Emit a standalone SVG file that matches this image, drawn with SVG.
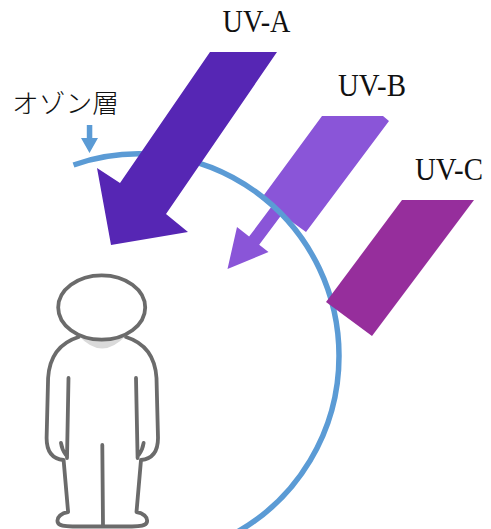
<svg xmlns="http://www.w3.org/2000/svg" width="491" height="529" viewBox="0 0 491 529">
  <style>
    .label { font-family: "Liberation Serif", "Times New Roman", serif; font-size: 32px; fill: #111; }
    .jp { font-family: "Noto Sans CJK JP", "Noto Sans CJK SC", sans-serif; font-size: 26px; font-weight: 300; fill: #111; }
    .ozone { fill: none; stroke: #5b9bd5; stroke-width: 5.5; }
    .body { fill: #fff; stroke: #6b6b6b; stroke-width: 3.8; stroke-linecap: round; stroke-linejoin: round; }
    .line { fill: none; stroke: #6b6b6b; stroke-width: 3.8; stroke-linecap: round; }
  </style>

  <rect width="491" height="529" fill="#fff"/>

  <!-- person -->
  <g id="person">
    <path class="body" d="M 126 337 C 142 342 155 354 156.5 378 L 158 438 C 158 452 152 459 141 460 L 136.5 512 C 143 513 148 517 147 522 C 146 526 140 526.5 132 526.5 L 72.6 526.5 C 64.6 526.5 58.6 526 57.6 522 C 56.6 517 61.6 513 68.1 512 L 63.6 460 C 52.6 459 46.6 452 46.6 438 L 48.1 378 C 49.6 354 62.6 342 78.6 337"/>
    <path d="M 79 336 Q 102 361 125.5 336 Z" fill="#dadada"/>
    <ellipse class="body" cx="101.7" cy="307.5" rx="43.5" ry="32.2"/>
    <path class="line" d="M 68.5 378 L 67 458 M 136 378 L 137.6 458 M 61 443 Q 62 450 66 455 M 143.6 443 Q 142.6 450 138.6 455 M 102.3 445 L 103 525"/>
  </g>

  <!-- UV-B ray (partly passes the layer) -->
  <g id="uvb">
    <polygon fill="#8a55d8" points="322,116 383,116 389,121 306,232 281.8,214.6 259.2,244.7 268.5,252 227.5,269 237,227 249.1,236.6 271.4,206.8 261,199"/>
    <text class="label" x="338" y="96" textLength="68" lengthAdjust="spacingAndGlyphs">UV-B</text>
  </g>

  <!-- ozone layer arc -->
  <g id="ozone-layer">
    <path class="ozone" d="M 73.5 165 A 200 202 0 0 1 339 356 A 200 202 0 0 1 231.7 535"/>
    <polygon fill="#5b9bd5" points="86.8,125 92.3,125 92.3,138 98,138 89.5,153 81,138 86.8,138"/>
    <text class="jp" x="12" y="113" textLength="107" lengthAdjust="spacingAndGlyphs">オゾン層</text>
  </g>

  <!-- UV-A ray (reaches the ground) -->
  <g id="uva">
    <polygon fill="#5626b4" points="210,52 277,52 166,214 188,232 111,245 97,168 120,183"/>
    <text class="label" x="222.5" y="32" textLength="68" lengthAdjust="spacingAndGlyphs">UV-A</text>
  </g>

  <!-- UV-C ray (stopped by the layer) -->
  <g id="uvc">
    <polygon fill="#962e9c" points="402,200 474,200 372,336 326,302"/>
    <text class="label" x="415" y="180" textLength="68" lengthAdjust="spacingAndGlyphs">UV-C</text>
  </g>
</svg>
